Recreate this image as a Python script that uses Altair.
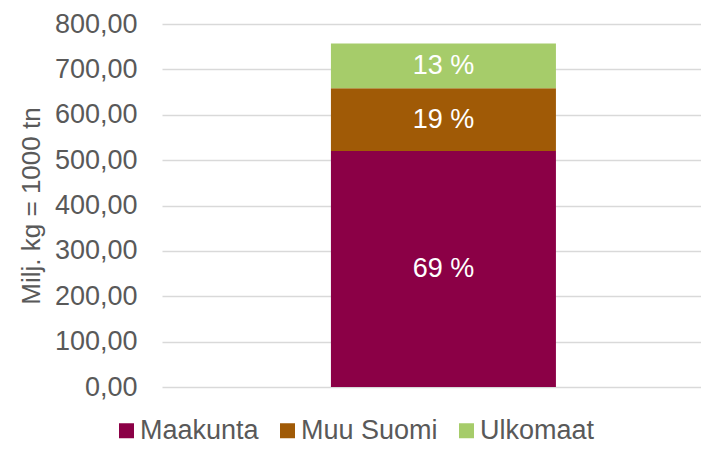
import altair as alt
import pandas as pd

# ---- data ----
categories = ["Maakunta", "Muu Suomi", "Ulkomaat"]
values = [520.0, 138.5, 98.5]
share_labels = ["69 %", "19 %", "13 %"]
stack_order = [0, 1, 2]
colors = ["#8B0046", "#A05A06", "#A6CC6A"]
y_ticks = [0, 100, 200, 300, 400, 500, 600, 700, 800]
y_title = "Milj. kg = 1000 tn"

FONT = "Liberation Sans"
GREY = "#595959"

df = pd.DataFrame({
    "sarja": categories,
    "arvo": values,
    "osuus": share_labels,
    "jarjestys": stack_order,
    "ryhma": [""] * len(categories),
})

base = alt.Chart(df).transform_stack(
    stack="arvo",
    as_=["y0", "y1"],
    groupby=["ryhma"],
    sort=[alt.SortField("jarjestys", order="ascending")],
).transform_calculate(ymid="(datum.y0 + datum.y1) / 2")

x_enc = alt.X(
    "ryhma:N",
    axis=None,
    scale=alt.Scale(paddingInner=0, paddingOuter=0.6978, align=0.538),
)

y_scale = alt.Scale(domain=[0, 800], nice=False)

bars = base.mark_bar().encode(
    x=x_enc,
    y=alt.Y(
        "y0:Q",
        scale=y_scale,
        axis=alt.Axis(
            values=y_ticks,
            labelExpr="replace(format(datum.value, '.2f'), '.', ',')",
            title=y_title,
            titleFont=FONT,
            titleFontSize=26,
            titleFontWeight="normal",
            titleColor=GREY,
            titlePadding=10,
            labelFont=FONT,
            labelFontSize=27,
            labelColor=GREY,
            labelPadding=25,
            domain=False,
            ticks=False,
            tickSize=0,
            grid=True,
            gridColor="#d9d9d9",
            gridWidth=1.3,
        ),
    ),
    y2="y1:Q",
    color=alt.Color(
        "sarja:N",
        scale=alt.Scale(domain=categories, range=colors),
        legend=alt.Legend(
            title=None,
            orient="none",
            legendX=-49,
            legendY=393,
            direction="horizontal",
            symbolType="square",
            symbolSize=225,
            symbolStrokeWidth=0,
            symbolOpacity=1,
            labelFont=FONT,
            labelFontSize=27,
            labelColor=GREY,
            labelOffset=0,
            columnPadding=15,
            padding=0,
        ),
    ),
)

texts = base.mark_text(
    color="white", font=FONT, fontSize=27, baseline="middle", align="center"
).encode(
    x=x_enc,
    y=alt.Y("ymid:Q", scale=y_scale),
    text="osuus:N",
)

chart = (
    alt.layer(bars, texts)
    .properties(
        width=539,
        height=363,
        autosize=alt.AutoSizeParams(type="none"),
        padding={"left": 154, "top": 16, "right": 0, "bottom": 58},
    )
    .configure_view(stroke=None)
)

chart.save("out.html", embed_options={"renderer": "svg", "actions": False})
